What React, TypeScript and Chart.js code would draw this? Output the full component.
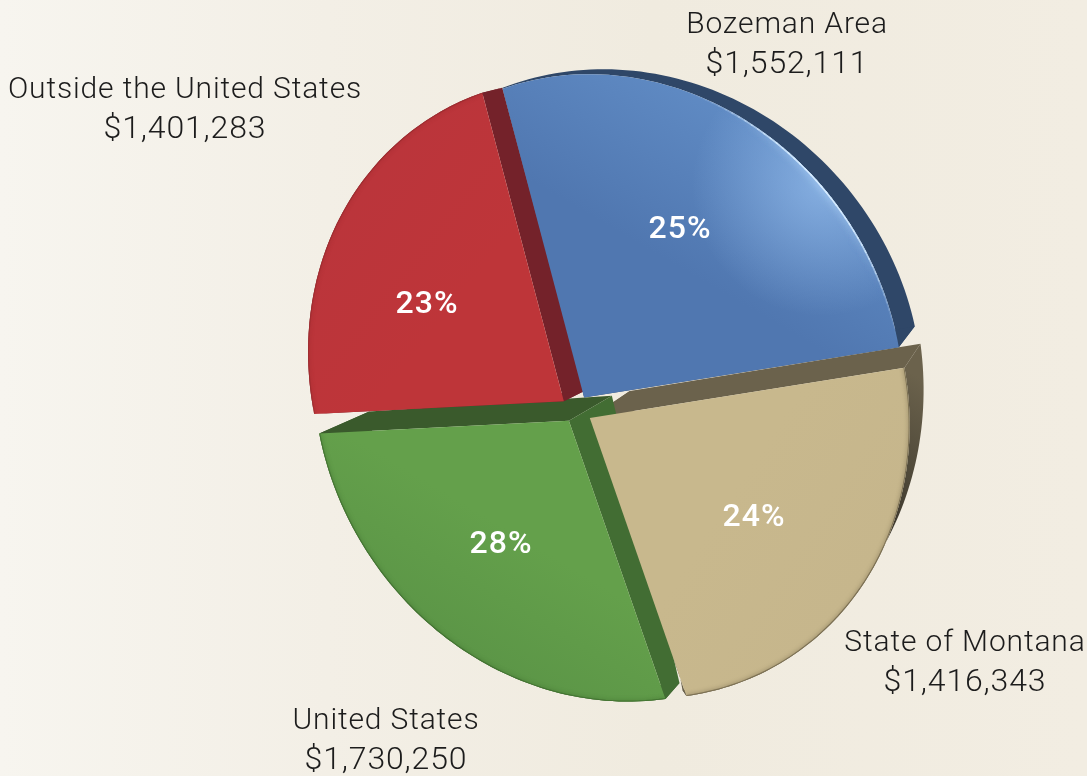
import React, { useEffect, useRef } from "react";
import { Chart, ArcElement, PieController } from "chart.js";

// ---- data ----
const categories = ["Bozeman Area", "State of Montana", "United States", "Outside the United States"];
const amounts = [1552111, 1416343, 1730250, 1401283];
const amountLabels = ["$1,552,111", "$1,416,343", "$1,730,250", "$1,401,283"];
const percentLabels = ["25%", "24%", "28%", "23%"];

// ---- styles ----
const faceColors = [
  ["#5077b0", "#5f8ac3"],
  ["#c8b88d", "#c6b68c"],
  ["#64a04b", "#5c9647"],
  ["#be3539", "#bb353b"],
];
const sliceColors = ["#5279b3", "#c9b98d", "#63a04a", "#bf3539"];
const rimColors = ["#35507a", "#5a5038", "#3c6a2c", "#8a2528"];
const rimAlpha = [1, 0.6, 0.7, 0.45];
const offsets = [60, 64, 52, 60];
// wall colours: start edge, rim at its start, rim at its end, end edge
const wallColors = [
  ["#2f4768", "#2f4768", "#2f4768", "#2f4768"],
  ["#6b624c", "#6b624c", "#38342a", "#6b624c"],
  ["#426d33", "#3a5a2c", "#3a5a2c", "#3a5a2c"],
  ["#74222a", "#74222a", "#74222a", "#74222a"],
];
// extrusion vector (pixels) at the apex, at the start of the rim, at the end of the rim
const depthVectors = [
  { apex: [12, -15], start: [0, -1], end: [16, -21] },
  { apex: [40, -27], start: [16, -24], end: [-4, -6] },
  { apex: [43, -25], start: [14, -16], end: [50, -22] },
  { apex: [20, -10], start: [0, 0], end: [20, -5] },
];
// perspective of the tilted disc
const tilt = { a: 0.847, b: 0.043, c: 0.046, d: 0.892, p: -0.115, q: 0.076 };
const outerLabelLayout = [
  { x: 787, y: 25 },
  { x: 965, y: 643 },
  { x: 386, y: 721 },
  { x: 185, y: 90 },
];
const percentLayout = [
  { x: 680, y: 230 },
  { x: 754, y: 518 },
  { x: 501, y: 545 },
  { x: 427, y: 305 },
];
const lineGap = 39.5;
const labelFont = '300 30px Roboto, "Liberation Sans", sans-serif';
const amountFont = '300 32px Roboto, "Liberation Sans", sans-serif';
const percentFont = '500 32px Roboto, "Liberation Sans", sans-serif';

function rimPoints(arc: any, steps = 72) {
  const { x, y, startAngle, endAngle, outerRadius: r } = arc;
  const off = (arc.options.offset || 0) / 4;
  const mid = (startAngle + endAngle) / 2;
  const ax = x + Math.cos(mid) * off;
  const ay = y + Math.sin(mid) * off;
  const pts: number[][] = [];
  for (let i = 0; i <= steps; i++) {
    const ang = startAngle + ((endAngle - startAngle) * i) / steps;
    const u = Math.cos(ang);
    const v = Math.sin(ang);
    const w = 1 + tilt.p * u + tilt.q * v;
    pts.push([ax + (r * (tilt.a * u + tilt.b * v)) / w, ay + (r * (tilt.c * u + tilt.d * v)) / w]);
  }
  return { ax, ay, pts };
}

class BevelArc extends ArcElement {
  static id = "bevelArc";

  drawWalls(ctx: CanvasRenderingContext2D, i: number) {
    const { ax, ay, pts } = rimPoints(this);
    const dv = depthVectors[i];
    const n = pts.length - 1;
    const vec = (k: number) => {
      const t = k / n;
      return [dv.start[0] + (dv.end[0] - dv.start[0]) * t, dv.start[1] + (dv.end[1] - dv.start[1]) * t];
    };
    const [cStart, cRimA, cRimB, cEnd] = wallColors[i];
    ctx.save();
    const rimGrad = ctx.createLinearGradient(pts[0][0], pts[0][1], pts[n][0], pts[n][1]);
    rimGrad.addColorStop(0, cRimA);
    rimGrad.addColorStop(0.4, cRimB);
    rimGrad.addColorStop(1, cRimB);
    ctx.fillStyle = rimGrad;
    ctx.beginPath();
    pts.forEach((p, k) => (k ? ctx.lineTo(p[0], p[1]) : ctx.moveTo(p[0], p[1])));
    for (let k = n; k >= 0; k--) {
      const e = vec(k);
      ctx.lineTo(pts[k][0] + e[0], pts[k][1] + e[1]);
    }
    ctx.closePath();
    ctx.fill();
    const edge = (p: number[], e: number[], color: string) => {
      ctx.fillStyle = color;
      ctx.beginPath();
      ctx.moveTo(ax, ay);
      ctx.lineTo(p[0], p[1]);
      ctx.lineTo(p[0] + e[0], p[1] + e[1]);
      ctx.lineTo(ax + dv.apex[0], ay + dv.apex[1]);
      ctx.closePath();
      ctx.fill();
    };
    edge(pts[n], dv.end, cEnd);
    edge(pts[0], dv.start, cStart);
    ctx.restore();
  }

  drawFace(ctx: CanvasRenderingContext2D, i: number) {
    const { ax, ay, pts } = rimPoints(this);
    const n = pts.length - 1;
    const midP = pts[Math.round(n / 2)];
    ctx.save();
    ctx.beginPath();
    ctx.moveTo(ax, ay);
    pts.forEach((p) => ctx.lineTo(p[0], p[1]));
    ctx.closePath();
    const g = ctx.createLinearGradient(ax, ay, midP[0], midP[1]);
    g.addColorStop(0, faceColors[i][0]);
    g.addColorStop(0.5, faceColors[i][0]);
    g.addColorStop(1, faceColors[i][1]);
    ctx.fillStyle = g;
    ctx.fill();
    ctx.clip();

    const strokeRim = (from: number, to: number) => {
      ctx.beginPath();
      for (let k = from; k <= to; k++) {
        if (k === from) ctx.moveTo(pts[k][0], pts[k][1]);
        else ctx.lineTo(pts[k][0], pts[k][1]);
      }
      ctx.stroke();
    };

    if (i === 0) {
      // soft glow and specular streak along the blue slice's rim
      const c = pts[Math.round(n * 0.68)];
      const glow = ctx.createRadialGradient(c[0], c[1], 0, c[0], c[1], 130);
      glow.addColorStop(0, "rgba(165,205,250,0.55)");
      glow.addColorStop(1, "rgba(165,205,250,0)");
      ctx.fillStyle = glow;
      ctx.fillRect(c[0] - 140, c[1] - 140, 280, 280);
      ctx.lineCap = "round";
      for (let k = Math.round(n * 0.35); k < n; k++) {
        const t = (k / n - 0.35) / 0.65;
        const alpha = Math.pow(Math.sin(Math.PI * t), 2);
        ctx.strokeStyle = `rgba(215,236,255,${alpha.toFixed(3)})`;
        ctx.lineWidth = 3;
        ctx.shadowColor = `rgba(190,222,255,${alpha.toFixed(3)})`;
        ctx.shadowBlur = 8;
        strokeRim(k, k + 1);
      }
      ctx.shadowBlur = 0;
    } else {
      ctx.globalAlpha = rimAlpha[i];
      ctx.strokeStyle = rimColors[i];
      ctx.shadowColor = rimColors[i];
      ctx.shadowBlur = 4;
      ctx.lineWidth = 2;
      strokeRim(0, n);
      ctx.shadowBlur = 0;
    }
    ctx.restore();
  }

  draw(ctx: CanvasRenderingContext2D) {
    this.drawFace(ctx, 0);
  }
}

class BevelPieController extends PieController {
  static id = "bevelPie";
  static defaults = { ...PieController.defaults, dataElementType: "bevelArc" };

  draw() {
    const ctx = (this as any).chart.ctx;
    const arcs = (this as any).getMeta().data as BevelArc[];
    arcs.forEach((arc, i) => arc.drawWalls(ctx, i));
    arcs.forEach((arc, i) => arc.drawFace(ctx, i));
  }
}

Chart.register(BevelArc, BevelPieController);

const textPlugin = {
  id: "sliceText",
  afterDatasetsDraw(chart: any) {
    const { ctx } = chart;
    ctx.save();
    ctx.textAlign = "center";
    ctx.textBaseline = "middle";
    ctx.fillStyle = "#1c1c1c";
    ctx.letterSpacing = "0.85px";
    categories.forEach((name, i) => {
      const p = outerLabelLayout[i];
      ctx.font = labelFont;
      ctx.fillText(name, p.x, p.y);
      ctx.font = amountFont;
      ctx.fillText(amountLabels[i], p.x, p.y + lineGap);
    });
    ctx.fillStyle = "#ffffff";
    ctx.font = percentFont;
    ctx.letterSpacing = "1px";
    percentLabels.forEach((txt, i) => {
      const p = percentLayout[i];
      ctx.fillText(txt, p.x, p.y);
    });
    ctx.restore();
  },
};

export default function App() {
  const ref = useRef<HTMLCanvasElement | null>(null);
  useEffect(() => {
    const chart = new Chart(ref.current as HTMLCanvasElement, {
      type: "bevelPie" as any,
      data: {
        labels: categories,
        datasets: [
          {
            data: amounts,
            backgroundColor: sliceColors,
            borderWidth: 0,
            offset: offsets,
          } as any,
        ],
      },
      options: {
        responsive: false,
        animation: false,
        events: [],
        rotation: -13,
        layout: { padding: { left: 65, top: 44 } },
        plugins: { legend: { display: false }, tooltip: { enabled: false } },
      } as any,
      plugins: [textPlugin],
    });
    return () => chart.destroy();
  }, []);
  return (
    <div
      style={{
        position: "fixed",
        inset: 0,
        background: "linear-gradient(90deg, #f7f5ef 0%, #f3efe6 30%, #f0ebdf 60%, #f2ede2 100%)",
      }}
    >
      <canvas ref={ref} width={1087} height={776} style={{ display: "block" }} />
    </div>
  );
}
